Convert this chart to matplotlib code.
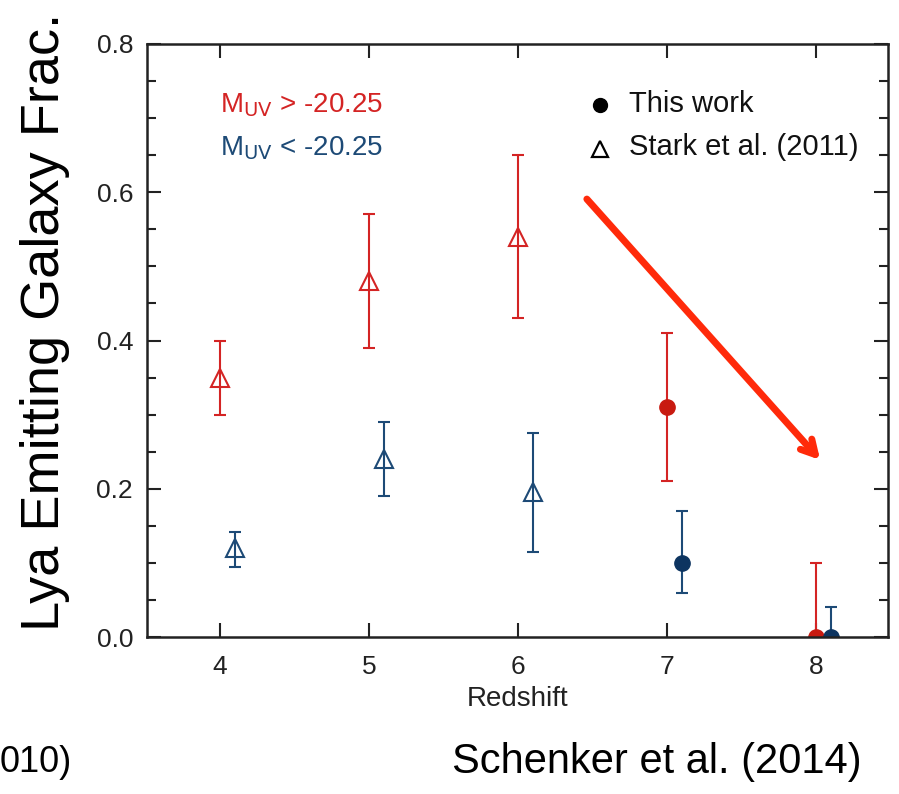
import matplotlib.pyplot as plt
from matplotlib.ticker import MultipleLocator

# Stark et al. (2011), faint (M_UV > -20.25) and bright (M_UV < -20.25)
stark_z_faint = [4.0, 5.0, 6.0]
stark_f_faint = [0.35, 0.48, 0.54]
stark_lo_faint = [0.05, 0.09, 0.11]
stark_hi_faint = [0.05, 0.09, 0.11]

stark_z_bright = [4.1, 5.1, 6.1]
stark_f_bright = [0.12, 0.24, 0.195]
stark_lo_bright = [0.025, 0.05, 0.08]
stark_hi_bright = [0.022, 0.05, 0.08]

# This work
sch_z_faint = [7.0, 8.0]
sch_f_faint = [0.31, 0.0]
sch_lo_faint = [0.10, 0.0]
sch_hi_faint = [0.10, 0.10]

sch_z_bright = [7.1, 8.1]
sch_f_bright = [0.10, 0.0]
sch_lo_bright = [0.04, 0.0]
sch_hi_bright = [0.07, 0.04]

RED = "#d42424"
RED_DOT = "#c81a10"
BLUE = "#1d4a76"
BLUE_DOT = "#0d3460"

plt.rcParams["font.family"] = ["Liberation Sans", "DejaVu Sans"]

fig = plt.figure(figsize=(8.99, 7.94), dpi=100)
ax = fig.add_axes([0.1635, 0.1977, 0.8243, 0.7469])

ax.errorbar(stark_z_faint, stark_f_faint, yerr=[stark_lo_faint, stark_hi_faint],
            fmt="^", mfc="none", mec=RED, ecolor=RED, mew=1.5, ms=13,
            elinewidth=1.5, capsize=4.5, capthick=1.5)
ax.errorbar(stark_z_bright, stark_f_bright, yerr=[stark_lo_bright, stark_hi_bright],
            fmt="^", mfc="none", mec=BLUE, ecolor=BLUE, mew=1.5, ms=13,
            elinewidth=1.5, capsize=4.5, capthick=1.5)
ax.errorbar(sch_z_faint, sch_f_faint, yerr=[sch_lo_faint, sch_hi_faint],
            fmt="o", color=RED_DOT, ecolor=RED, ms=11,
            elinewidth=1.5, capsize=4.5, capthick=1.5)
ax.errorbar(sch_z_bright, sch_f_bright, yerr=[sch_lo_bright, sch_hi_bright],
            fmt="o", color=BLUE_DOT, ecolor=BLUE, ms=11,
            elinewidth=1.5, capsize=4.5, capthick=1.5)

ax.set_xlim(3.51, 8.48)
ax.set_ylim(0.0, 0.8)
ax.xaxis.set_major_locator(MultipleLocator(1))
ax.yaxis.set_major_locator(MultipleLocator(0.2))
ax.yaxis.set_minor_locator(MultipleLocator(0.05))
ax.yaxis.set_major_formatter(lambda v, pos: f"{v:.1f}")
ax.tick_params(which="both", direction="in", top=True, right=True,
               labelsize=19, colors="#222222", width=1.5)
ax.tick_params(which="major", length=10)
ax.tick_params(which="minor", length=6.5)
ax.tick_params(axis="y", pad=10)
ax.tick_params(axis="x", pad=13)
for s in ax.spines.values():
    s.set_linewidth(1.8)
    s.set_color("#222222")
ax.set_xlabel("Redshift", fontsize=20, labelpad=5, color="#222222")

# legend-like labels
ax.text(0.0985, 0.897, r"M$_{\rm UV}$ > -20.25", transform=ax.transAxes,
        color=RED, fontsize=20, va="center")
ax.text(0.0985, 0.825, r"M$_{\rm UV}$ < -20.25", transform=ax.transAxes,
        color=BLUE, fontsize=20, va="center")
ax.plot([0.611], [0.897], "o", color="black", ms=10, transform=ax.transAxes)
ax.plot([0.611], [0.823], "^", mfc="none", mec="black", mew=1.6, ms=11,
        transform=ax.transAxes)
ax.text(0.650, 0.899, "This work", transform=ax.transAxes,
        fontsize=21, va="center", color="#111111")
ax.text(0.650, 0.826, "Stark et al. (2011)", transform=ax.transAxes,
        fontsize=21, va="center", color="#111111")

# slide annotations
fig.text(45 / 899, 1 - 322 / 794, "Lya Emitting Galaxy Frac.", rotation=90,
         ha="center", va="center", fontsize=39, color="black")
fig.text(862 / 899, 1 - 762 / 794, "Schenker et al. (2014)", ha="right",
         va="center", fontsize=30, color="black")
fig.text(0.0, 1 - 762 / 794, "010)", ha="left",
         va="center", fontsize=26, color="black")

ax.annotate("", xy=(822 / 899, 1 - 462 / 794), xytext=(585 / 899, 1 - 197 / 794),
            xycoords="figure fraction", textcoords="figure fraction",
            arrowprops=dict(arrowstyle="->,head_length=1.0,head_width=0.55",
                            color="#ff2a0a", lw=5, capstyle="round",
                            joinstyle="round"))

fig.savefig("out.png", dpi=100)
